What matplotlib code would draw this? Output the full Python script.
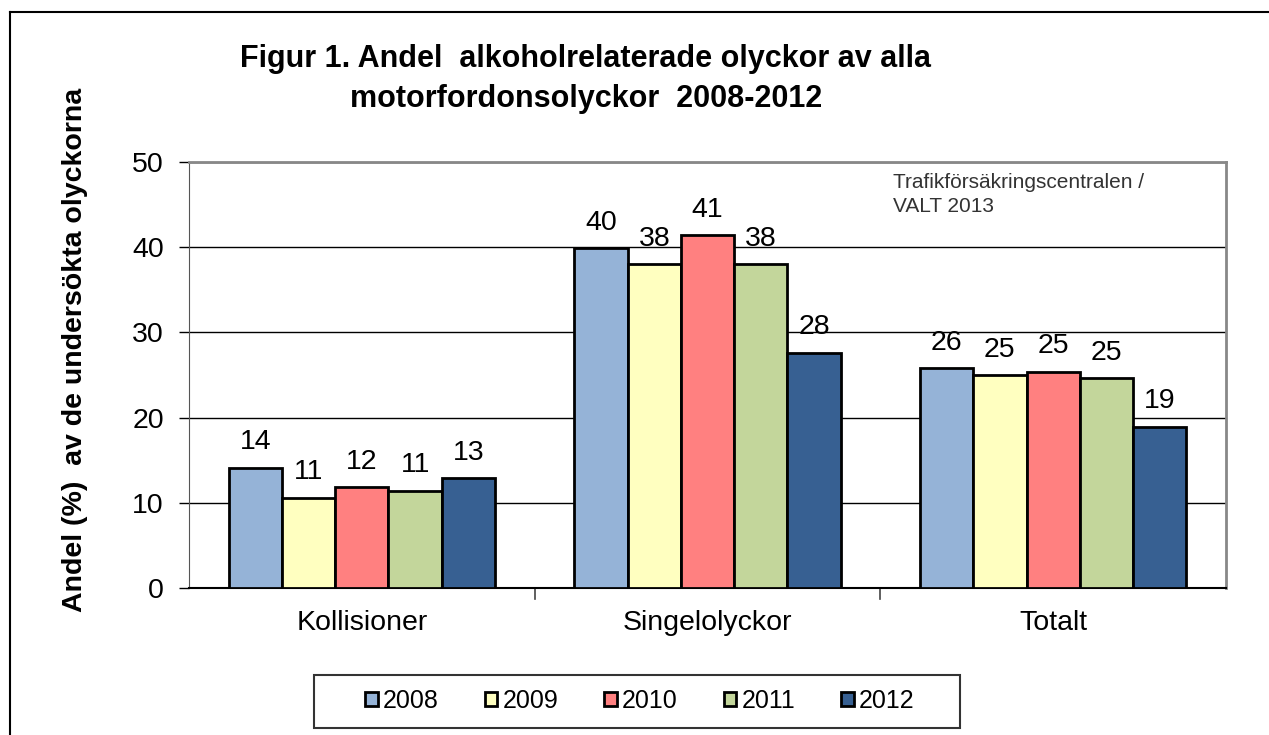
#!/usr/bin/env python3

import matplotlib.pyplot as plt
from matplotlib.lines import Line2D
from matplotlib.patches import Rectangle
import numpy as np

plt.rcParams["font.family"] = ["Liberation Sans", "DejaVu Sans"]

categories = ["Kollisioner", "Singelolyckor", "Totalt"]
years = ["2008", "2009", "2010", "2011", "2012"]
values = {
    "2008": [14.1, 39.9, 25.8],
    "2009": [10.6, 38.0, 25.0],
    "2010": [11.8, 41.4, 25.4],
    "2011": [11.4, 38.0, 24.6],
    "2012": [12.9, 27.6, 18.9],
}
colors = ["#95b3d7", "#ffffc0", "#ff8080", "#c3d69b", "#376092"]

W, H = 1269, 735
fig = plt.figure(figsize=(W / 100, H / 100), dpi=100)
ax = fig.add_axes([189 / W, 1 - 588 / H, (1226 - 189) / W, (588 - 162) / H])

x = np.arange(len(categories))
width = 0.154
for i, year in enumerate(years):
    pos = x + (i - 2) * width
    bars = ax.bar(pos, values[year], width, color=colors[i],
                  edgecolor="black", linewidth=2, label=year, zorder=3)
    for b, v in zip(bars, values[year]):
        ax.annotate(f"{v:.0f}", (b.get_x() + b.get_width() / 2, v),
                    xytext=(0, 9), textcoords="offset points",
                    ha="center", va="bottom", fontsize=20.5)

ax.set_xlim(-0.5, 2.5)
ax.set_ylim(0, 50)
ax.set_yticks(range(0, 51, 10))
ax.tick_params(axis="y", labelsize=20.5, length=7, width=1, direction="out", pad=11)
ax.set_xticks(x)
ax.set_xticklabels(categories, fontsize=20.5)
ax.tick_params(axis="x", length=0, pad=16)
for b in [0.5, 1.5]:
    ax.plot([b, b], [0, -0.025], transform=ax.get_xaxis_transform(),
            color="#444444", lw=1.2, clip_on=False)
ax.grid(axis="y", color="black", lw=1, zorder=0)
ax.set_axisbelow(True)
for s in ["top", "right"]:
    ax.spines[s].set_color("#888888")
    ax.spines[s].set_linewidth(2)
ax.spines["left"].set_color("#555555")
ax.spines["left"].set_linestyle((0, (4, 1)))
ax.spines["bottom"].set_color("black")
ax.spines["bottom"].set_linewidth(1.5)

ax.text(893 / W, 1 - 173 / H, "Trafikförsäkringscentralen /\nVALT 2013",
        transform=fig.transFigure, fontsize=15, color="#333333",
        va="top", ha="left", linespacing=1.35)

fig.text(586 / W, 1 - 79 / H,
         "Figur 1. Andel  alkoholrelaterade olyckor av alla\nmotorfordonsolyckor  2008-2012",
         ha="center", va="center", fontsize=22, fontweight="bold", linespacing=1.4)
fig.text(75 / W, 1 - 350 / H, "Andel (%)  av de undersökta olyckorna",
         rotation=90, ha="center", va="center", fontsize=20.5, fontweight="bold")

leg = fig.legend(loc="center", bbox_to_anchor=(640 / W, 1 - 701 / H), ncol=5,
                 fontsize=18, frameon=False,
                 handlelength=0.5, handleheight=0.5, handletextpad=0.2,
                 columnspacing=1.85, borderaxespad=0)
for p in leg.get_patches():
    p.set_linewidth(2)
fig.add_artist(Rectangle((314 / W, 1 - 728 / H), (960 - 314) / W, (728 - 675) / H,
                         transform=fig.transFigure, fill=False,
                         edgecolor="#333333", lw=1.5))

# outer frame
fig.add_artist(Line2D([10 / W, 1.0], [1 - 12 / H, 1 - 12 / H],
                      transform=fig.transFigure, color="black", lw=1.5))
fig.add_artist(Line2D([10 / W, 10 / W], [0, 1 - 12 / H],
                      transform=fig.transFigure, color="black", lw=1.5))

fig.savefig("out.png", dpi=100)
